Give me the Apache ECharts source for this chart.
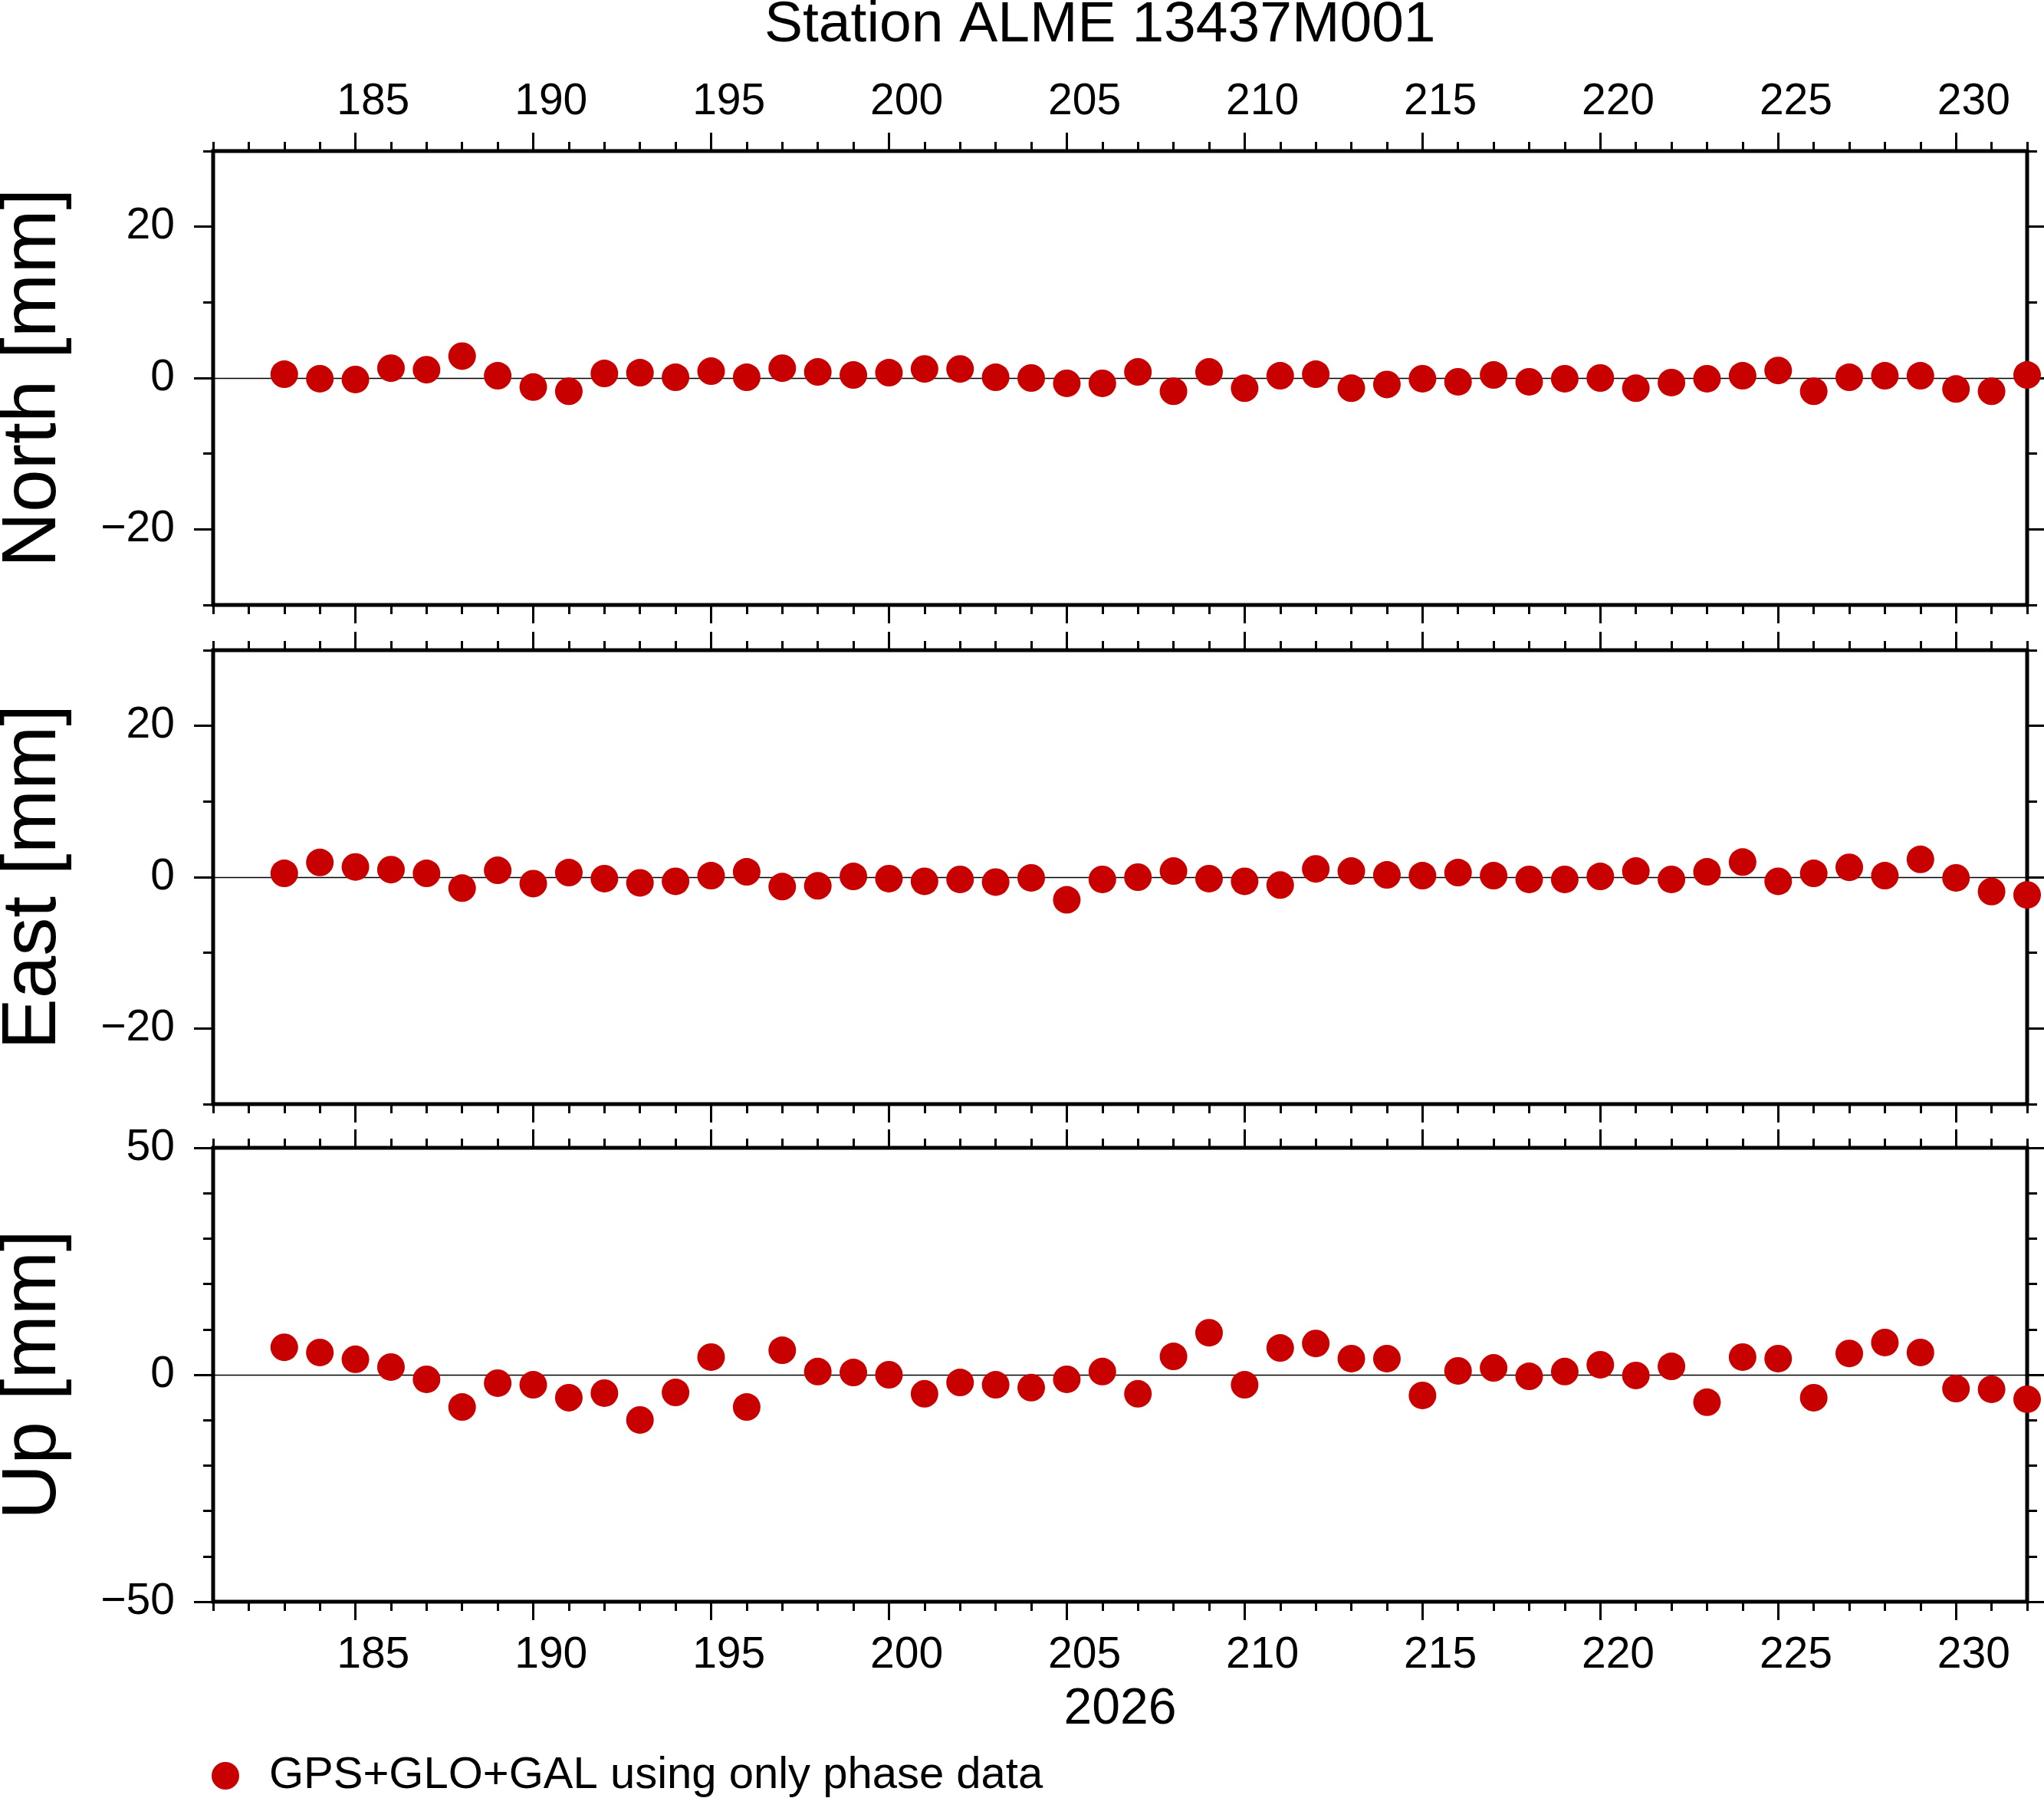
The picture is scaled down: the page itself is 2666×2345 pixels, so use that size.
<!DOCTYPE html>
<html lang="en">
<head>
  <meta charset="UTF-8">
  <title>Station ALME 13437M001</title>
  <style>
    * { box-sizing: border-box; padding: 0; margin: 0; }
    html, body, #main { width: 100%; height: 100%; background: #fff; }
  </style>
  <script src="https://cdn.jsdelivr.net/npm/echarts@6/dist/echarts.min.js"></script>
</head>
<body>
  <div id="main"></div>
  <script>
    // day of year 2026
    var days = [183, 184, 185, 186, 187, 188, 189, 190, 191, 192,
                193, 194, 195, 196, 197, 198, 199, 200, 201, 202,
                203, 204, 205, 206, 207, 208, 209, 210, 211, 212,
                213, 214, 215, 216, 217, 218, 219, 220, 221, 222,
                223, 224, 225, 226, 227, 228, 229, 230, 231, 232];
    // residuals in mm
    var north = [0.5, -0.1, -0.2, 1.3, 1.1, 2.9, 0.3, -1.2, -1.75, 0.6,
                 0.7, 0.1, 0.9, 0.1, 1.3, 0.8, 0.4, 0.7, 1.2, 1.2,
                 0.1, 0.0, -0.7, -0.7, 0.8, -1.75, 0.8, -1.35, 0.3, 0.5,
                 -1.35, -0.85, -0.1, -0.5, 0.4, -0.5, -0.1, 0.0, -1.35, -0.6,
                 -0.1, 0.3, 1.0, -1.75, 0.1, 0.3, 0.3, -1.45, -1.75, 0.4];
    var east = [0.5, 1.95, 1.35, 1.0, 0.5, -1.45, 0.9, -0.85, 0.6, -0.2,
                -0.75, -0.55, 0.2, 0.7, -1.25, -1.15, 0.1, -0.2, -0.55, -0.3,
                -0.65, -0.1, -3.0, -0.3, 0.0, 0.8, -0.2, -0.55, -1.05, 1.1,
                0.8, 0.3, 0.2, 0.6, 0.2, -0.3, -0.3, 0.1, 0.8, -0.3,
                0.7, 2.0, -0.55, 0.5, 1.3, 0.2, 2.35, -0.1, -1.9, -2.35];
    var up = [6.05, 4.9, 3.4, 1.7, -1.0, -7.1, -1.85, -2.2, -5.05, -4.05,
              -9.95, -3.9, 3.9, -7.1, 5.4, 0.7, 0.5, 0.0, -4.2, -1.7,
              -2.2, -2.85, -1.0, 0.7, -4.2, 4.05, 9.25, -2.2, 5.9, 6.9,
              3.55, 3.55, -4.55, 0.85, 1.5, -0.35, 0.7, 2.2, -0.15, 1.85,
              -6.05, 3.9, 3.55, -5.05, 4.7, 7.1, 4.9, -3.05, -3.2, -5.4];

    var dayLabels = [185, 190, 195, 200, 205, 210, 215, 220, 225, 230];
    var neLabels = [-20, 0, 20];
    var upLabels = [-50, 0, 50];

    var seriesName = 'GPS+GLO+GAL using only phase data';
    var xMin = 181, xMax = 232;
    var font = "'Liberation Sans', Arial, Helvetica, sans-serif";

    var panels = [
      { name: 'North [mm]', values: north, min: -30, max: 30, labels: neLabels, top: 197 },
      { name: 'East [mm]',  values: east,  min: -30, max: 30, labels: neLabels, top: 848 },
      { name: 'Up [mm]',    values: up,    min: -50, max: 50, labels: upLabels, top: 1497 }
    ];

    function range(a, b, step) {
      var out = [];
      for (var v = a; v <= b; v += step) out.push(v);
      return out;
    }
    var minorDays = range(xMin, xMax, 1);
    var majorDays = range(185, 230, 5);
    // labels sit in the middle of the day
    var dayLabelPos = dayLabels.map(function (d) { return d + 0.5; });

    function fmtY(v) {
      return v < 0 ? '\u2212' + Math.abs(v) : String(v);
    }

    var tickStyle = { color: '#000', width: 3 };
    var labelStyle = { color: '#000', fontSize: 57, fontFamily: font };

    var grids = [], xAxes = [], yAxes = [], series = [];

    panels.forEach(function (p, i) {
      grids.push({
        left: 278, right: 22, top: p.top, height: 592,
        outerBoundsMode: 'none', containLabel: false,
        show: true, borderColor: '#000', borderWidth: 5, backgroundColor: 'transparent'
      });

      function xAx(pos, ticks, len, label) {
        return {
          gridIndex: i, type: 'value', min: xMin, max: xMax, position: pos,
          axisLine: { show: false, onZero: false },
          axisTick: { show: true, customValues: ticks, length: len, lineStyle: tickStyle },
          axisLabel: label || { show: false },
          splitLine: { show: false }
        };
      }
      var bottomLabel = null, topLabel = null;
      if (i === 2) {
        bottomLabel = Object.assign({ show: true, customValues: dayLabelPos, margin: 42,
          formatter: function (v) { return String(Math.floor(v)); } }, labelStyle);
      }
      if (i === 0) {
        topLabel = Object.assign({ show: true, customValues: dayLabelPos, margin: 35,
          formatter: function (v) { return String(Math.floor(v)); } }, labelStyle);
      }
      var xb = xAx('bottom', minorDays, 12, bottomLabel);
      if (i === 2) {
        xb.name = '2026';
        xb.nameLocation = 'middle';
        xb.nameGap = 108;
        xb.nameTextStyle = { color: '#000', fontSize: 66, fontFamily: font };
      }
      xAxes.push(xb);
      xAxes.push(xAx('bottom', majorDays, 24));
      xAxes.push(xAx('top', minorDays, 12, topLabel));
      xAxes.push(xAx('top', majorDays, 24));

      var minorY = range(p.min, p.max, 10);
      function yAx(pos, ticks, len, label) {
        return {
          gridIndex: i, type: 'value', min: p.min, max: p.max, position: pos,
          axisLine: { show: false, onZero: false },
          axisTick: { show: true, customValues: ticks, length: len, lineStyle: tickStyle },
          axisLabel: label || { show: false },
          splitLine: { show: false }
        };
      }
      var yl = yAx('left', minorY, 13, Object.assign({ show: true, customValues: p.labels,
        margin: 50, formatter: fmtY }, labelStyle));
      yl.name = p.name;
      yl.nameLocation = 'middle';
      yl.nameRotate = 90;
      yl.nameGap = 184;
      yl.nameTextStyle = { color: '#000', fontSize: 100, fontFamily: font };
      yAxes.push(yl);
      yAxes.push(yAx('left', p.labels, 25));
      yAxes.push(yAx('right', minorY, 13));
      yAxes.push(yAx('right', p.labels, 25));

      series.push({
        name: seriesName,
        type: 'scatter',
        xAxisIndex: i * 4,
        yAxisIndex: i * 4,
        symbol: 'circle',
        symbolSize: 36,
        clip: false,
        itemStyle: { color: '#c80000', opacity: 1 },
        data: days.map(function (d, k) { return [d, p.values[k]]; }),
        markLine: {
          z: 1,
          silent: true,
          symbol: 'none',
          label: { show: false },
          lineStyle: { color: '#000', width: 1.3, type: 'solid' },
          data: [{ yAxis: 0 }]
        }
      });
    });

    var myChart = echarts.init(document.getElementById('main'));
    var option = {
      animation: false,
      backgroundColor: '#fff',
      title: {
        text: 'Station ALME 13437M001',
        left: 997,
        top: -4,
        padding: 0,
        textStyle: { color: '#000', fontSize: 75, fontWeight: 'normal', fontFamily: font }
      },
      legend: {
        data: [seriesName],
        left: 271,
        top: 2282,
        icon: 'circle',
        itemWidth: 36,
        itemHeight: 36,
        textStyle: { color: '#000', fontSize: 58, fontFamily: font, padding: [0, 0, 0, 34] }
      },
      grid: grids,
      xAxis: xAxes,
      yAxis: yAxes,
      series: series
    };
    myChart.setOption(option);
    window.onresize = myChart.resize;
  </script>
</body>
</html>
